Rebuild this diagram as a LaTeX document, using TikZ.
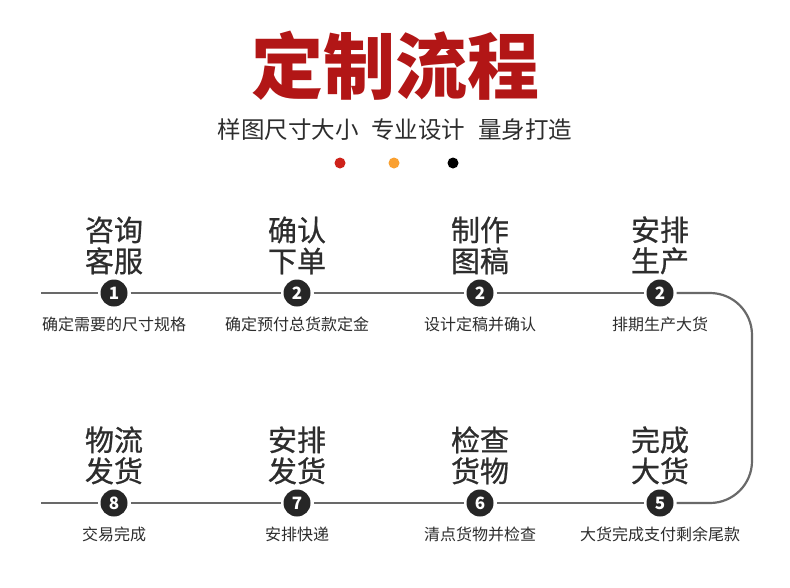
\documentclass[tikz,border=0pt]{standalone}
\usepackage{fontspec}
\newfontfamily\cjk{Noto Sans CJK SC}
\newfontfamily\cjkmid[FakeBold=0.7]{Noto Sans CJK SC}
\usetikzlibrary{positioning}
\definecolor{ttlred}{RGB}{178,22,22}
\definecolor{dotred}{RGB}{206,34,26}
\definecolor{dotorange}{RGB}{250,160,48}
\definecolor{linegray}{RGB}{105,105,105}
\definecolor{txtgray}{RGB}{45,45,45}

\begin{document}
\begin{tikzpicture}[x=1pt, y=-1pt,
    circ/.style={circle, fill=black!85, text=white, font=\cjk\bfseries\fontsize{17}{17}\selectfont,
                 minimum size=27pt, inner sep=0pt, outer sep=3pt},
    ttl/.style={font=\cjkmid\fontsize{29}{31}\selectfont, text=txtgray, align=center, inner sep=0pt},
    dsc/.style={font=\cjk\fontsize{16}{16}\selectfont, text=txtgray, inner sep=0pt},
    flow/.style={draw=linegray, line width=2.2pt}
  ]
    \fill[white] (0,0) rectangle (790,587);
    \useasboundingbox (0,0) rectangle (790,587);

    \node[font=\cjk\bfseries\fontsize{72}{72}\selectfont, text=ttlred] (head) at (395,66) {定制流程};
    \node[font=\cjk\fontsize{23.5}{23.5}\selectfont, text=txtgray] (sub) at (395,130)
      {样图尺寸大小\hspace{13pt}专业设计\hspace{13pt}量身打造};
    \fill[dotred]    (340,163) circle (5.5pt);
    \fill[dotorange] (394,163) circle (5.5pt);
    \fill[black]     (453,163) circle (5.5pt);

    % first row
    \node[circ] (s1) at (114,293) {1};
    \node[circ] (s2) at (297,293) {2};
    \node[circ] (s3) at (480,293) {2};
    \node[circ] (s4) at (660,293) {2};
    \node[ttl, above=2pt of s1] (t1) {咨询\\客服};
    \node[ttl, above=2pt of s2] (t2) {确认\\下单};
    \node[ttl, above=2pt of s3] (t3) {制作\\图稿};
    \node[ttl, above=2pt of s4] (t4) {安排\\生产};
    \node[dsc, below=7pt of s1] (d1) {确定需要的尺寸规格};
    \node[dsc, below=7pt of s2] (d2) {确定预付总货款定金};
    \node[dsc, below=7pt of s3] (d3) {设计定稿并确认};
    \node[dsc, below=7pt of s4] (d4) {排期生产大货};

    % second row
    \node[circ] (s5) at (660,503) {5};
    \node[circ] (s6) at (480,503) {6};
    \node[circ] (s7) at (297,503) {7};
    \node[circ] (s8) at (114,503) {8};
    \node[ttl, above=2pt of s5] (t5) {完成\\大货};
    \node[ttl, above=2pt of s6] (t6) {检查\\货物};
    \node[ttl, above=2pt of s7] (t7) {安排\\发货};
    \node[ttl, above=2pt of s8] (t8) {物流\\发货};
    \node[dsc, below=7pt of s5] (d5) {大货完成支付剩余尾款};
    \node[dsc, below=7pt of s6] (d6) {清点货物并检查};
    \node[dsc, below=7pt of s7] (d7) {安排快递};
    \node[dsc, below=7pt of s8] (d8) {交易完成};

    % connectors
    \coordinate (in)  at (41,293);
    \coordinate (out) at (41,503);
    \coordinate (c1)  at (752,293);
    \coordinate (c2)  at (752,503);
    \draw[flow] (in) -- (s1.west);
    \draw[flow] (s1.east) -- (s2.west);
    \draw[flow] (s2.east) -- (s3.west);
    \draw[flow] (s3.east) -- (s4.west);
    \draw[flow, rounded corners=42pt] (s4.east) -- (c1) -- (c2) -- (s5.east);
    \draw[flow] (s5.west) -- (s6.east);
    \draw[flow] (s6.west) -- (s7.east);
    \draw[flow] (s7.west) -- (s8.east);
    \draw[flow] (s8.west) -- (out);
  \end{tikzpicture}
\end{document}
